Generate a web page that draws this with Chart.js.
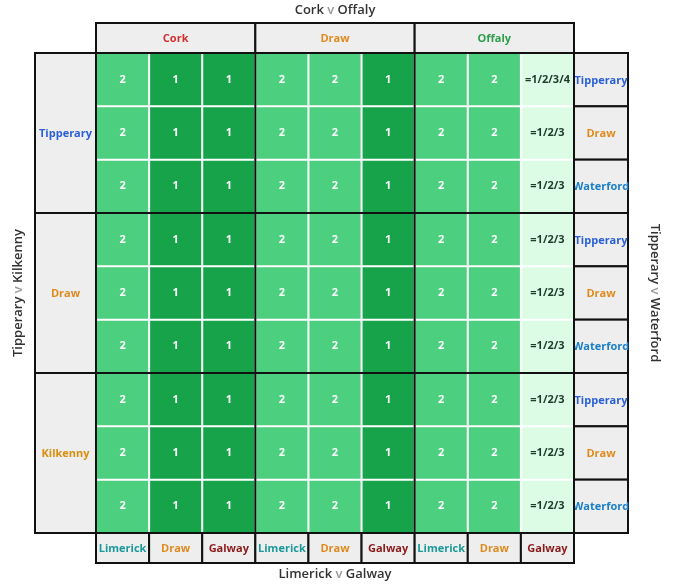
<!DOCTYPE html>
<html><head><meta charset="utf-8">
<script src="https://cdn.jsdelivr.net/npm/chart.js@4/dist/chart.umd.min.js"></script>
<style>html,body{margin:0;background:#fff}#wrap{width:680px;height:584px}</style>
</head><body><div id="wrap"><canvas id="c"></canvas></div>
<script>
var colGroups = ['Cork', 'Draw', 'Offaly'];
var colLabels = ['Limerick', 'Draw', 'Galway', 'Limerick', 'Draw', 'Galway', 'Limerick', 'Draw', 'Galway'];
var rowGroups = ['Tipperary', 'Draw', 'Kilkenny'];
var rowLabels = ['Tipperary', 'Draw', 'Waterford', 'Tipperary', 'Draw', 'Waterford', 'Tipperary', 'Draw', 'Waterford'];
var cellValues = [
  [2, 1, 1, 2, 2, 1, 2, 2, '=1/2/3/4'],
  [2, 1, 1, 2, 2, 1, 2, 2, '=1/2/3'],
  [2, 1, 1, 2, 2, 1, 2, 2, '=1/2/3'],
  [2, 1, 1, 2, 2, 1, 2, 2, '=1/2/3'],
  [2, 1, 1, 2, 2, 1, 2, 2, '=1/2/3'],
  [2, 1, 1, 2, 2, 1, 2, 2, '=1/2/3'],
  [2, 1, 1, 2, 2, 1, 2, 2, '=1/2/3'],
  [2, 1, 1, 2, 2, 1, 2, 2, '=1/2/3'],
  [2, 1, 1, 2, 2, 1, 2, 2, '=1/2/3']
];
var titles = { top: ['Cork', 'Offaly'], bottom: ['Limerick', 'Galway'], left: ['Tipperary', 'Kilkenny'], right: ['Tipperary', 'Waterford'] };

var TEAM = { Cork: '#d32f2f', Draw: '#e08a1e', Offaly: '#2e9e4a', Tipperary: '#2a5fd8', Kilkenny: '#d98e0e',
             Waterford: '#1a7fc9', Limerick: '#1a9a9a', Galway: '#8b1a1a' };
var FONT = '"Open Sans", sans-serif';

var points = [];
cellValues.forEach(function(row, r) {
  row.forEach(function(v, c) { points.push({ x: c + 0.5, y: r + 0.5, v: v }); });
});

function cellFill(v) {
  if (typeof v === 'string') return '#dcfce6';
  return v === 1 ? '#17a34a' : '#4ccf7e';
}

function vTitle(ctx, parts, x, y, rot) {
  ctx.save();
  ctx.translate(x, y);
  ctx.rotate(rot);
  ctx.font = '600 13px ' + FONT;
  var a = parts[0] + ' ', b = 'v', c = ' ' + parts[1];
  var wa = ctx.measureText(a).width, wb = ctx.measureText(b).width, wc = ctx.measureText(c).width;
  var sx = -(wa + wb + wc) / 2;
  ctx.textAlign = 'left'; ctx.textBaseline = 'middle';
  ctx.fillStyle = '#333'; ctx.fillText(a, sx, 0);
  ctx.fillStyle = '#999'; ctx.fillText(b, sx + wa, 0);
  ctx.fillStyle = '#333'; ctx.fillText(c, sx + wa + wb, 0);
  ctx.restore();
}

var gridPlugin = {
  id: 'grid',
  afterDatasetsDraw: function(chart) {
    var ctx = chart.ctx, xs = chart.scales.x, ys = chart.scales.y;
    var X = function(v) { return xs.getPixelForValue(v); };
    var Y = function(v) { return ys.getPixelForValue(v); };
    var x0 = X(0), x9 = X(9), y0 = Y(0), y9 = Y(9);
    var hh = 30, lw = 61, rw = 54;
    ctx.save();
    // cells
    points.forEach(function(p) {
      var l = X(p.x - 0.5), r = X(p.x + 0.5), t = Y(p.y - 0.5), b = Y(p.y + 0.5);
      ctx.fillStyle = cellFill(p.v);
      ctx.fillRect(l, t, r - l, b - t);
      ctx.font = 'bold 11px ' + FONT;
      ctx.textAlign = 'center'; ctx.textBaseline = 'middle';
      ctx.fillStyle = typeof p.v === 'string' ? '#1f3b2a' : '#fff';
      ctx.fillText(String(p.v), (l + r) / 2, (t + b) / 2);
    });
    ctx.strokeStyle = '#fff'; ctx.lineWidth = 2;
    for (var i = 1; i < 9; i++) {
      ctx.beginPath(); ctx.moveTo(X(i), y0); ctx.lineTo(X(i), y9); ctx.stroke();
      ctx.beginPath(); ctx.moveTo(x0, Y(i)); ctx.lineTo(x9, Y(i)); ctx.stroke();
    }
    // header boxes
    ctx.lineWidth = 2; ctx.strokeStyle = '#111';
    function box(l, t, w, h, label, bold) {
      ctx.fillStyle = '#eeeeee'; ctx.fillRect(l, t, w, h);
      ctx.strokeRect(l, t, w, h);
      ctx.font = 'bold 11px ' + FONT;
      ctx.textAlign = 'center'; ctx.textBaseline = 'middle';
      ctx.fillStyle = TEAM[label];
      ctx.fillText(label, l + w / 2, t + h / 2 + 1);
    }
    colGroups.forEach(function(g, k) { box(X(k * 3), y0 - hh, X(k * 3 + 3) - X(k * 3), hh, g); });
    colLabels.forEach(function(g, k) { box(X(k), y9, X(k + 1) - X(k), hh, g); });
    rowGroups.forEach(function(g, k) { box(x0 - lw, Y(k * 3), lw, Y(k * 3 + 3) - Y(k * 3), g); });
    rowLabels.forEach(function(g, k) { box(x9, Y(k), rw, Y(k + 1) - Y(k), g); });
    // thick group borders
    ctx.strokeStyle = '#111'; ctx.lineWidth = 2;
    for (var j = 0; j <= 9; j += 3) {
      ctx.beginPath(); ctx.moveTo(X(j), y0); ctx.lineTo(X(j), y9); ctx.stroke();
      ctx.beginPath(); ctx.moveTo(x0, Y(j)); ctx.lineTo(x9, Y(j)); ctx.stroke();
    }
    // titles
    vTitle(ctx, titles.top, (x0 + x9) / 2, 10, 0);
    vTitle(ctx, titles.bottom, (x0 + x9) / 2, 574, 0);
    vTitle(ctx, titles.left, 18, (y0 + y9) / 2, -Math.PI / 2);
    vTitle(ctx, titles.right, 655, (y0 + y9) / 2, Math.PI / 2);
    ctx.restore();
  }
};

new Chart(document.getElementById('c'), {
  type: 'scatter',
  data: { datasets: [{ data: points, pointRadius: 0, pointHoverRadius: 0 }] },
  options: {
    responsive: true, maintainAspectRatio: false, animation: false,
    layout: { padding: { left: 96, right: 106, top: 53, bottom: 51 } },
    plugins: { legend: { display: false }, tooltip: { enabled: false } },
    scales: {
      x: { type: 'linear', min: 0, max: 9, display: false },
      y: { type: 'linear', min: 0, max: 9, reverse: true, display: false }
    }
  },
  plugins: [gridPlugin]
});
</script></body></html>
